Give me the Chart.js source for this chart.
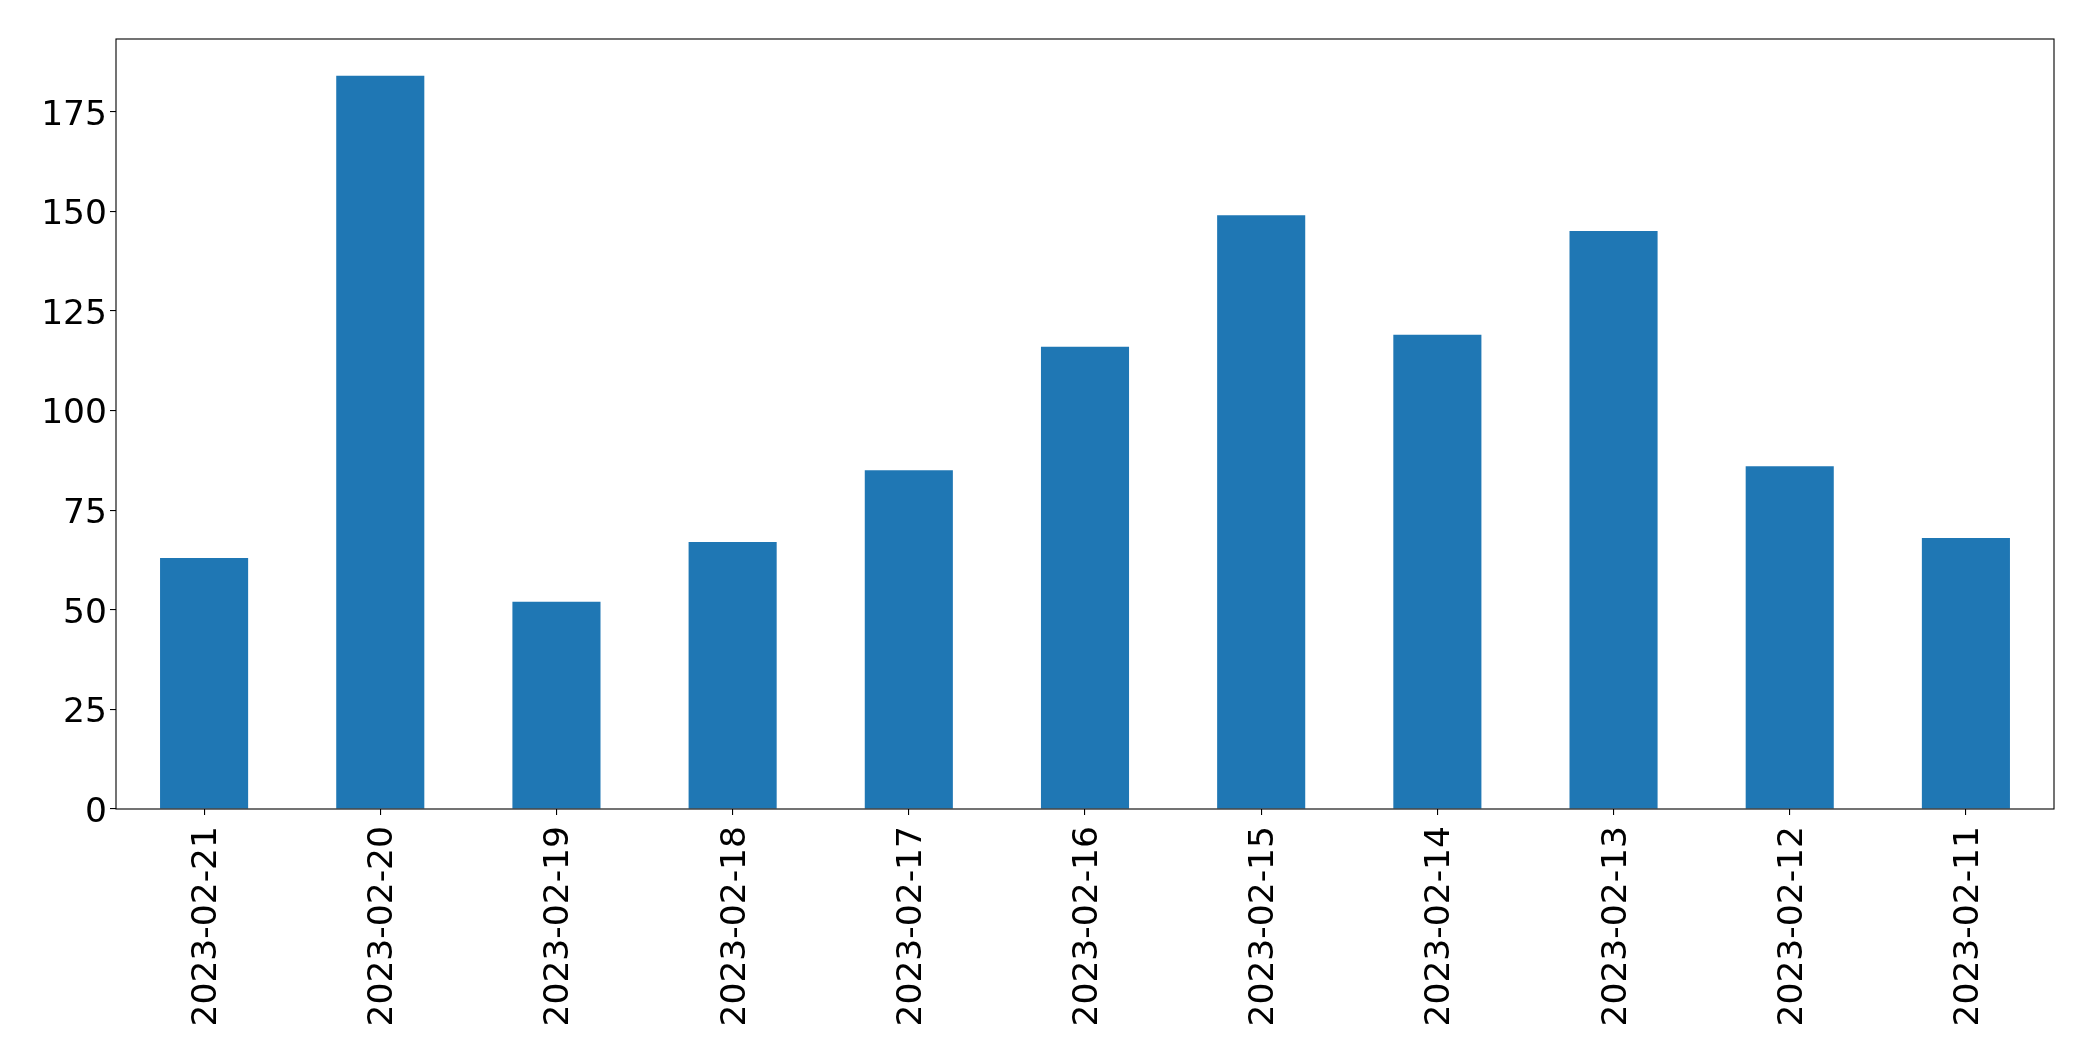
<!DOCTYPE html>
<html>
<head>
<meta charset="utf-8">
<script src="https://cdn.jsdelivr.net/npm/chart.js@4"></script>
<style>
  html, body { margin: 0; padding: 0; background: #ffffff; }
  canvas { display: block; }
</style>
</head>
<body>
<canvas id="dailyChart" width="2093" height="1061"></canvas>
<script>
// data
const dates = ['2023-02-21', '2023-02-20', '2023-02-19', '2023-02-18', '2023-02-17', '2023-02-16',
               '2023-02-15', '2023-02-14', '2023-02-13', '2023-02-12', '2023-02-11'];
const counts = [63, 184, 52, 67, 85, 116, 149, 119, 145, 86, 68];
const yTickValues = [0, 25, 50, 75, 100, 125, 150, 175];

const yMax = Math.max(...counts) * 1.05;
const tickFont = { family: 'DejaVu Sans', size: 34.5 };

// draws the black box around the plot area
const frame = {
  id: 'frame',
  afterDraw(chart) {
    const { ctx, chartArea } = chart;
    ctx.save();
    ctx.strokeStyle = '#000000';
    ctx.lineWidth = 1.1;
    ctx.strokeRect(chartArea.left, chartArea.top,
                   chartArea.right - chartArea.left, chartArea.bottom - chartArea.top);
    ctx.restore();
  }
};

function createDailyChart() {
  const ctx = document.getElementById('dailyChart');
  if (!ctx) {
    console.error('canvas not found');
    return;
  }

  new Chart(ctx, {
    type: 'bar',
    data: {
      labels: dates,
      datasets: [{
        label: 'count',
        data: counts,
        backgroundColor: '#1f77b4',
        borderWidth: 0,
        barPercentage: 0.5,
        categoryPercentage: 1.0
      }]
    },
    options: {
      responsive: false,
      devicePixelRatio: 1,
      animation: false,
      layout: {
        padding: { top: 39, right: 39, left: 0, bottom: 0 }
      },
      scales: {
        x: {
          offset: true,
          grid: {
            display: true,
            offset: false,
            drawOnChartArea: false,
            drawTicks: true,
            tickLength: 6,
            color: '#000000',
            lineWidth: 1.1
          },
          border: { display: false },
          ticks: {
            color: '#000000',
            font: tickFont,
            minRotation: 90,
            maxRotation: 90,
            autoSkip: false,
            padding: 11,
            labelOffset: 3
          },
          afterFit(scale) { scale.height = 252; }
        },
        y: {
          min: 0,
          max: yMax,
          grid: {
            display: true,
            drawOnChartArea: false,
            drawTicks: true,
            tickLength: 6,
            color: '#000000',
            lineWidth: 1.1
          },
          border: { display: false },
          ticks: {
            color: '#000000',
            font: tickFont,
            padding: 3,
            labelOffset: 4
          },
          afterBuildTicks(scale) {
            scale.ticks = yTickValues.map(v => ({ value: v }));
          },
          afterFit(scale) { scale.width = 116; }
        }
      },
      plugins: {
        legend: { display: false },
        title: { display: false },
        tooltip: { enabled: false }
      }
    },
    plugins: [frame]
  });
}

createDailyChart();
</script>
</body>
</html>
